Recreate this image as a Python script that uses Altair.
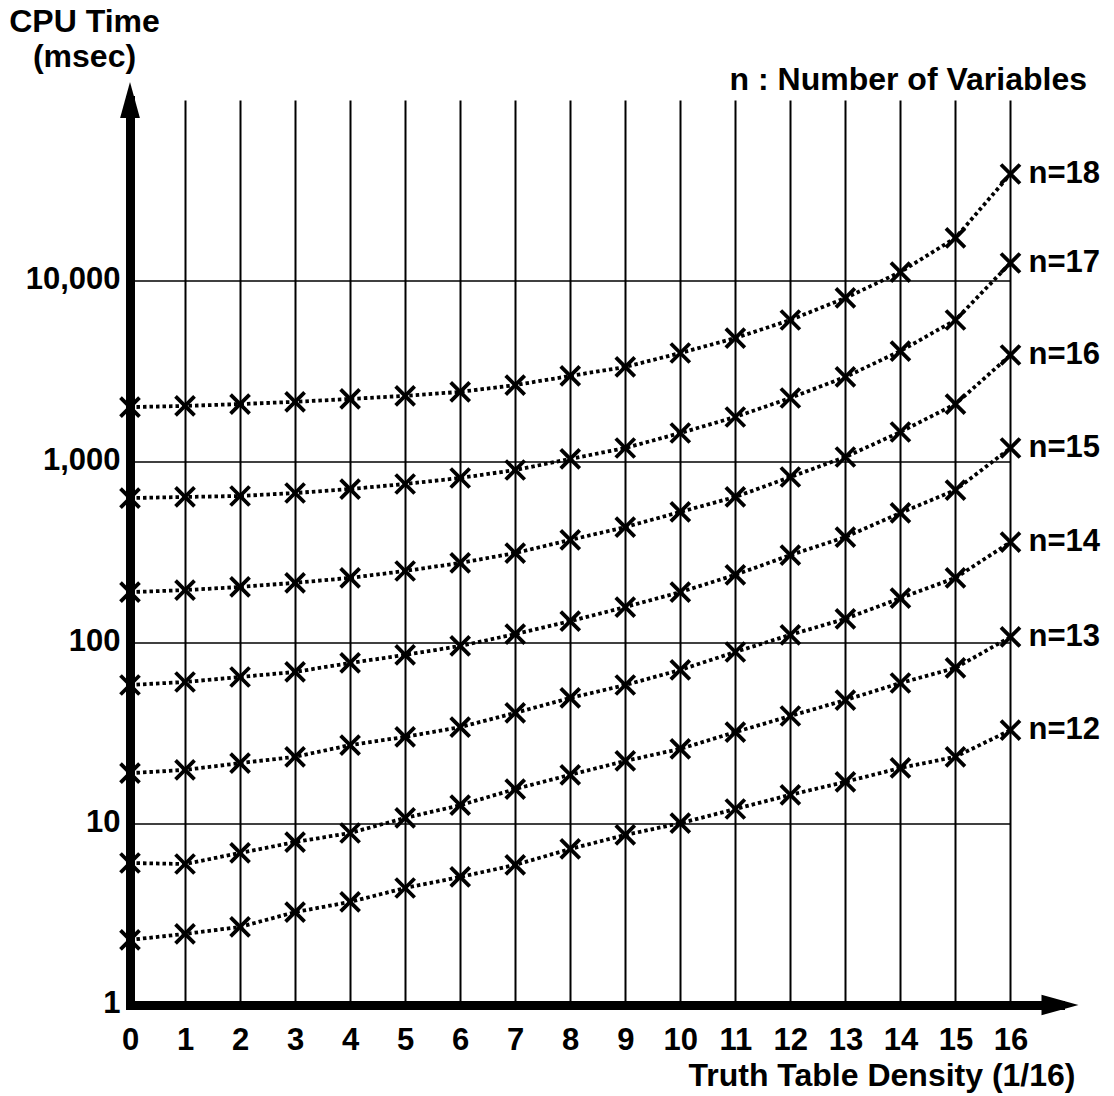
import altair as alt
import pandas as pd

# ---------------- data ----------------
DENSITY = list(range(17))
N_VALUES = [18, 17, 16, 15, 14, 13, 12]
T_N18 = [2010, 2040, 2090, 2150, 2230, 2320, 2440, 2660, 2990, 3350, 4000, 4840, 6090, 8060, 11200, 17300, 39000]
T_N17 = [632, 641, 649, 674, 709, 756, 816, 903, 1040, 1195, 1446, 1773, 2258, 2950, 4100, 6090, 12570]
T_N16 = [191, 196, 204, 215, 229, 250, 277, 314, 371, 437, 530, 641, 826, 1066, 1465, 2090, 3900]
T_N15 = [58.6, 60.9, 64.9, 69.2, 77.6, 85.9, 96.3, 112, 132, 158, 191, 238, 306, 385, 523, 700, 1195]
T_N14 = [19.1, 19.9, 21.7, 23.5, 27.3, 30.3, 34.3, 41.1, 49.7, 58.6, 71.0, 89.2, 111, 136, 177, 229, 361]
T_N13 = [6.09, 6.01, 6.92, 7.95, 8.92, 10.8, 12.7, 15.6, 18.7, 22.3, 26.0, 32.2, 39.5, 48.4, 60.1, 72.8, 108]
T_N12 = [2.29, 2.47, 2.70, 3.26, 3.71, 4.43, 5.10, 5.94, 7.28, 8.70, 10.1, 12.1, 14.5, 17.1, 20.4, 23.5, 33.0]
SERIES = [T_N18, T_N17, T_N16, T_N15, T_N14, T_N13, T_N12]

Y_TICKS = [1, 10, 100, 1000, 10000]
Y_GRID = [10, 100, 1000, 10000]
X_MAX = 16.9        # end of x axis (arrow)
Y_MAX = 100000      # end of y axis (arrow)

X_TITLE = "Truth Table Density (1/16)"
Y_TITLE = ["CPU Time", "(msec)"]
LEGEND_NOTE = "n : Number of Variables"

FONT = "Liberation Sans"

# ---------------- tables ----------------
rows = []
for n, vals in zip(N_VALUES, SERIES):
    for d, v in zip(DENSITY, vals):
        rows.append({"x": d, "y": v, "n": n})
df = pd.DataFrame(rows)

df_lab = pd.DataFrame({
    "x": [DENSITY[-1]] * len(N_VALUES),
    "y": [s[-1] for s in SERIES],
    "label": [f"n={n}" for n in N_VALUES],
})
df_grid = pd.DataFrame({"x": [DENSITY[0]] * len(Y_GRID), "x2": [DENSITY[-1]] * len(Y_GRID), "y": Y_GRID})
df_up = pd.DataFrame({"x": [0], "y": [Y_MAX]})
df_right = pd.DataFrame({"x": [X_MAX], "y": [1]})
df_note = pd.DataFrame({"label": [LEGEND_NOTE]})

# ---------------- scales / axes ----------------
x_scale = alt.Scale(domain=[0, X_MAX], nice=False, zero=False)
y_scale = alt.Scale(type="log", domain=[1, Y_MAX], nice=False)

x_axis = alt.Axis(
    values=DENSITY, grid=True, gridColor="black", gridWidth=2, gridOpacity=1,
    ticks=False, domain=True, domainColor="black", domainWidth=9, domainCap="square",
    labelFont=FONT, labelFontSize=31, labelFontWeight="bold", labelColor="black",
    labelPadding=44, labelBaseline="alphabetic", labelFlush=False, labelOverlap=False,
    title=X_TITLE, titleFont=FONT, titleFontSize=32, titleFontWeight="bold", titleColor="black",
    titleX=945, titleY=80, titleAlign="right", titleBaseline="alphabetic",
)
y_axis = alt.Axis(
    values=Y_TICKS, format=",", grid=False, ticks=False,
    domain=True, domainColor="black", domainWidth=9, domainCap="square",
    labelFont=FONT, labelFontSize=31, labelFontWeight="bold", labelColor="black",
    labelPadding=10, labelBaseline="alphabetic", labelOffset=7, labelAlign="right",
    labelFlush=False, labelOverlap=False,
    title=Y_TITLE, titleFont=FONT, titleFontSize=32, titleFontWeight="bold", titleColor="black",
    titleAngle=0, titleX=-46, titleY=-69, titleAlign="center", titleBaseline="alphabetic",
    titleLineHeight=35,
)


def X(field):
    return alt.X(field, type="quantitative", scale=x_scale, axis=x_axis)


def Y(field):
    return alt.Y(field, type="quantitative", scale=y_scale, axis=y_axis)


grid = alt.Chart(df_grid).mark_rule(color="black", strokeWidth=1.6).encode(
    x=X("x"), x2="x2", y=Y("y")
)

lines = alt.Chart(df).mark_line(
    color="black", strokeWidth=3.8, strokeDash=[3.5, 3]
).encode(x=X("x"), y=Y("y"), detail="n:N")

X_SHAPE = "M-1,-1L1,1M1,-1L-1,1"
points = alt.Chart(df).mark_point(
    shape=X_SHAPE, filled=False, color="black", stroke="black",
    strokeWidth=3.8, size=361, opacity=1
).encode(x=X("x"), y=Y("y"))

labels = alt.Chart(df_lab).mark_text(
    align="left", baseline="middle", dx=18, font=FONT, fontSize=31,
    fontWeight="bold", color="black"
).encode(x=X("x"), y=Y("y"), text="label:N")

UP_ARROW = "M0,-1L0.55,1L-0.55,1Z"
RIGHT_ARROW = "M1,0L-1,-0.55L-1,0.55Z"
arrow_up = alt.Chart(df_up).mark_point(
    shape=UP_ARROW, filled=True, color="black", size=1296, opacity=1
).encode(x=X("x"), y=Y("y"))
arrow_right = alt.Chart(df_right).mark_point(
    shape=RIGHT_ARROW, filled=True, color="black", size=1369, opacity=1
).encode(x=X("x"), y=Y("y"))

note = alt.Chart(df_note).mark_text(
    align="right", baseline="alphabetic", font=FONT, fontSize=32,
    fontWeight="bold", color="black"
).encode(x=alt.value(957), y=alt.value(-10), text="label:N")

chart = alt.layer(
    grid, lines, points, labels, arrow_up, arrow_right, note
).properties(
    width=930,
    height=905,
    autosize=alt.AutoSizeParams(type="none"),
    padding={"left": 130, "top": 100, "right": 54, "bottom": 91},
    background="white",
).configure_view(stroke="transparent")

chart.save("out.html", embed_options={"renderer": "svg", "actions": False})
